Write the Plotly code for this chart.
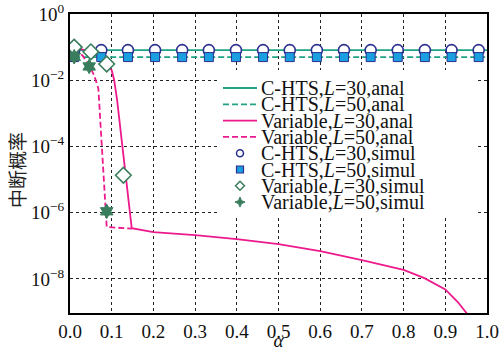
import plotly.graph_objects as go

# ---------------- data ----------------
alpha_chts_anal = [0.01, 1.0]
p_chts30_anal = [0.081, 0.081]
p_chts50_anal = [0.050, 0.050]

alpha_var30_anal = [0.01, 0.03, 0.05, 0.07, 0.087, 0.1, 0.106, 0.113, 0.148, 0.2, 0.3,
                    0.4, 0.5, 0.6, 0.7, 0.8, 0.85, 0.9, 0.93, 0.955]
p_var30_anal = [1.0e-1, 8.3e-2, 7.1e-2, 5.0e-2, 3.2e-2, 2.0e-2, 1.0e-2, 2.5e-3, 3.4e-7, 2.6e-7,
                2.1e-7, 1.6e-7, 1.12e-7, 6.9e-8, 3.7e-8, 1.86e-8, 1.05e-8, 4.8e-9, 2.0e-9, 8.0e-10]

alpha_var50_anal = [0.01, 0.03, 0.046, 0.058, 0.068, 0.076, 0.086, 0.088, 0.148]
p_var50_anal = [9.0e-2, 5.6e-2, 2.8e-2, 1.4e-2, 5.6e-3, 8.9e-5, 1.1e-6, 3.7e-7, 3.3e-7]

alpha_chts_sim = [0.01, 0.075, 0.139, 0.204, 0.269, 0.333, 0.398, 0.463, 0.527, 0.592,
                  0.657, 0.721, 0.786, 0.851, 0.915, 0.98]
p_chts30_sim = [0.081] * 16
p_chts50_sim = [0.050] * 16

alpha_var30_sim = [0.01, 0.05, 0.088, 0.128]
p_var30_sim = [1.0e-1, 7.2e-2, 3.1e-2, 1.35e-5]

alpha_var50_sim = [0.01, 0.046, 0.088]
p_var50_sim = [5.1e-2, 2.6e-2, 1.1e-6]

legend_labels = [
    "C-HTS,<i>L</i>=30,anal",
    "C-HTS,<i>L</i>=50,anal",
    "Variable,<i>L</i>=30,anal",
    "Variable,<i>L</i>=50,anal",
    "C-HTS,<i>L</i>=30,simul",
    "C-HTS,<i>L</i>=50,simul",
    "Variable,<i>L</i>=30,simul",
    "Variable,<i>L</i>=50,simul",
]

y_tickvals = [1, 1e-2, 1e-4, 1e-6, 1e-8]
y_ticktext = ["10<sup>0</sup>", "10<sup>\u22122</sup>", "10<sup>\u22124</sup>",
              "10<sup>\u22126</sup>", "10<sup>\u22128</sup>"]

# ---------------- styles ----------------
TEAL = "#1fa384"
MAGENTA = "#ec1a8c"
NAVY = "#2b2f8f"
SQFILL = "#1a9fe0"
GREEN = "#3a7d5c"
SERIF = "Liberation Serif, Times New Roman, serif"
DASH = "6px,3px"

fig = go.Figure()

fig.add_trace(go.Scatter(x=alpha_chts_anal, y=p_chts30_anal, mode="lines",
                         line=dict(color=TEAL, width=1.8), name=legend_labels[0]))
fig.add_trace(go.Scatter(x=alpha_chts_anal, y=p_chts50_anal, mode="lines",
                         line=dict(color=TEAL, width=1.8, dash=DASH), name=legend_labels[1]))
fig.add_trace(go.Scatter(x=alpha_var30_anal, y=p_var30_anal, mode="lines",
                         line=dict(color=MAGENTA, width=1.8), name=legend_labels[2]))
fig.add_trace(go.Scatter(x=alpha_var50_anal, y=p_var50_anal, mode="lines",
                         line=dict(color=MAGENTA, width=1.8, dash=DASH), name=legend_labels[3]))
fig.add_trace(go.Scatter(x=alpha_chts_sim, y=p_chts30_sim, mode="markers",
                         marker=dict(symbol="circle", size=11, color="white",
                                     line=dict(color=NAVY, width=1.6)), name=legend_labels[4]))
fig.add_trace(go.Scatter(x=alpha_chts_sim, y=p_chts50_sim, mode="markers",
                         marker=dict(symbol="square", size=9, color=SQFILL,
                                     line=dict(color=NAVY, width=1)), name=legend_labels[5]))
fig.add_trace(go.Scatter(x=alpha_var30_sim, y=p_var30_sim, mode="markers",
                         marker=dict(symbol="diamond", size=12, color="white",
                                     line=dict(color=GREEN, width=1.6)), name=legend_labels[6]))
fig.add_trace(go.Scatter(x=alpha_var50_sim, y=p_var50_sim, mode="markers",
                         marker=dict(symbol="hexagram", size=11, color=GREEN,
                                     line=dict(color=GREEN, width=1)), name=legend_labels[7]))

# ---------------- layout geometry ----------------
W, H = 502, 351
ML, MR, MT, MB = 70, 15, 14, 38
PW, PH = W - ML - MR, H - MT - MB


def px_x(p):
    return (p - ML) / PW


def px_y(p):
    return (H - MB - p) / PH


shapes = []
annotations = []

# legend background box (hides the grid behind the legend)
shapes.append(dict(type="rect", xref="paper", yref="paper", layer="above",
                   x0=px_x(217), x1=px_x(476), y0=px_y(218), y1=px_y(70),
                   fillcolor="white", line=dict(width=0)))

legend_keys = [
    ("line", TEAL, "solid"), ("line", TEAL, "dash"),
    ("line", MAGENTA, "solid"), ("line", MAGENTA, "dash"),
    ("circle", NAVY, None), ("square", NAVY, None),
    ("diamond", GREEN, None), ("star", GREEN, None),
]
row0, row_step = 88.0, 16.3
kx = px_x(240)
for i, (lab, (kind, col, dash)) in enumerate(zip(legend_labels, legend_keys)):
    yc = px_y(row0 + i * row_step)
    annotations.append(dict(text=lab, xref="paper", yref="paper", x=px_x(259), y=yc,
                            xanchor="left", yanchor="middle", showarrow=False,
                            font=dict(family=SERIF, size=20, color="#111")))
    if kind == "line":
        shapes.append(dict(type="line", xref="paper", yref="paper", layer="above",
                           x0=px_x(223), x1=px_x(257), y0=yc, y1=yc,
                           line=dict(color=col, width=1.8,
                                     dash=DASH if dash == "dash" else "solid")))
    elif kind == "circle":
        shapes.append(dict(type="circle", xref="paper", yref="paper", xsizemode="pixel",
                           ysizemode="pixel", xanchor=kx, yanchor=yc, x0=-3.5, x1=3.5,
                           y0=-3.5, y1=3.5, fillcolor="white", layer="above",
                           line=dict(color=col, width=1.5)))
    elif kind == "square":
        shapes.append(dict(type="rect", xref="paper", yref="paper", xsizemode="pixel",
                           ysizemode="pixel", xanchor=kx, yanchor=yc, x0=-3.5, x1=3.5,
                           y0=-3.5, y1=3.5, fillcolor=SQFILL, layer="above",
                           line=dict(color=col, width=1.2)))
    elif kind == "diamond":
        shapes.append(dict(type="path", xref="paper", yref="paper", xsizemode="pixel",
                           ysizemode="pixel", xanchor=kx, yanchor=yc, layer="above",
                           path="M -4.5 0 L 0 4.5 L 4.5 0 L 0 -4.5 Z",
                           fillcolor="white", line=dict(color=col, width=1.5)))
    else:
        shapes.append(dict(type="path", xref="paper", yref="paper", xsizemode="pixel",
                           ysizemode="pixel", xanchor=kx, yanchor=yc, layer="above",
                           path="M -5 0 L -1.5 1.5 L 0 5 L 1.5 1.5 L 5 0 L 1.5 -1.5 L 0 -5 L -1.5 -1.5 Z",
                           fillcolor=col, line=dict(color=col, width=1)))

# y-axis title
annotations.append(dict(text="中断概率", xref="paper", yref="paper", x=px_x(16), y=px_y(170),
                        xanchor="center", yanchor="middle", textangle=-90, showarrow=False,
                        font=dict(family="Noto Sans CJK SC", size=19, color="#222")))

fig.update_layout(
    width=W, height=H,
    margin=dict(l=ML, r=MR, t=MT, b=MB),
    paper_bgcolor="white", plot_bgcolor="white",
    showlegend=False,
    shapes=shapes, annotations=annotations,
    font=dict(family=SERIF, size=19, color="#111"),
)

fig.update_xaxes(
    range=[0, 1], dtick=0.1, tick0=0, tickformat=".1f",
    showline=True, linecolor="black", linewidth=2, mirror=True,
    showgrid=True, gridcolor="#222", gridwidth=1, griddash="3px,3px",
    zeroline=False, ticks="", tickfont=dict(family=SERIF, size=19, color="#111"),
    title=dict(text="<i>α</i>", font=dict(family=SERIF, size=19, color="#111"), standoff=6),
    automargin=False,
)
fig.update_yaxes(
    type="log", range=[-9.03, 0],
    tickvals=y_tickvals, ticktext=y_ticktext,
    showline=True, linecolor="black", linewidth=2, mirror=True,
    showgrid=True, gridcolor="#222", gridwidth=1, griddash="3px,3px",
    zeroline=False, ticks="", tickfont=dict(family=SERIF, size=19, color="#111"),
    automargin=False,
)

fig.write_html("out.html", config={"displayModeBar": False},
               post_script="document.body.style.margin='0px';")
